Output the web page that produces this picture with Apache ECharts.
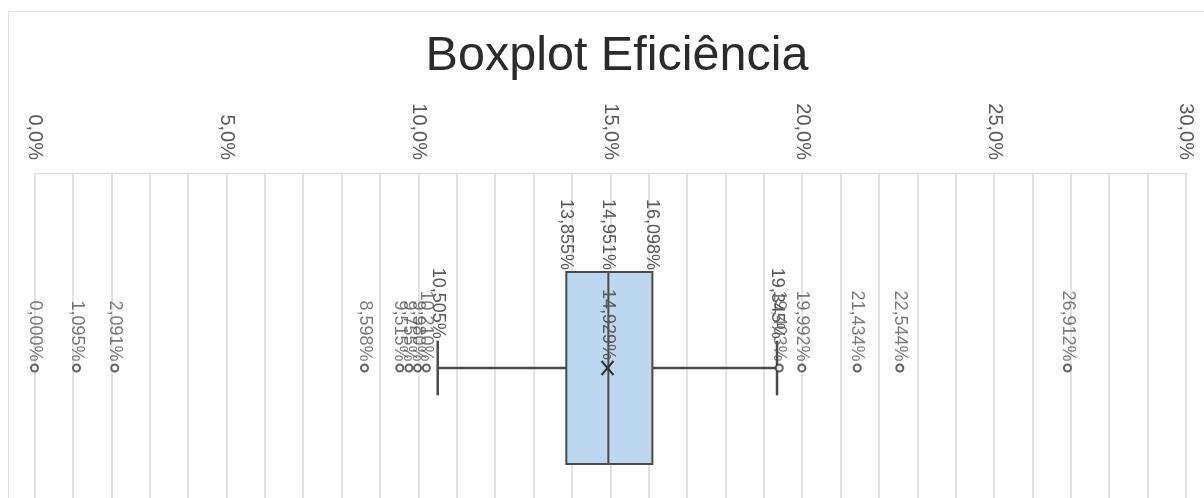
<!DOCTYPE html>
<html>
<head>
<meta charset="utf-8">
<style>
  html, body { margin: 0; padding: 0; background: #ffffff; }
  #chart { width: 1204px; height: 498px; }
</style>
<script src="https://cdn.jsdelivr.net/npm/echarts@6/dist/echarts.min.js"></script>
</head>
<body>
<div id="chart"></div>
<script>
// Single efficiency sample, values in percent
const categories = ['Eficiência'];
// whisker low, Q1, median, Q3, whisker high
const boxStats = [10.505, 13.855, 14.951, 16.098, 19.345];
const meanValue = 14.929;
const outliers = [0.000, 1.095, 2.091, 8.598, 9.515, 9.755, 9.980, 10.210,
                  19.403, 19.992, 21.434, 22.544, 26.912];
const axisMin = 0;
const axisMax = 30;
const minorStep = 1;
const labelStep = 5;

const LABEL_FONT = '"Liberation Sans", Arial, sans-serif';
const LABEL_COLOR = '#595959';
const LINE_COLOR = '#4a4a4a';

const pct3 = v => v.toFixed(3).replace('.', ',') + '%';
const pct1 = v => v.toFixed(1).replace('.', ',') + '%';

// rotated value label that ends at (x, y) and reads top-to-bottom
function vLabel(text, x, y) {
  return {
    type: 'text',
    x: x, y: y,
    rotation: -Math.PI / 2,
    style: {
      text: text, x: 0, y: 0,
      align: 'right', verticalAlign: 'middle',
      font: '18px ' + LABEL_FONT,
      fill: LABEL_COLOR
    },
    z2: 10
  };
}

function renderBox(params, api) {
  const cat = api.value(0);
  const lo = api.coord([api.value(1), cat]);
  const q1 = api.coord([api.value(2), cat]);
  const med = api.coord([api.value(3), cat]);
  const q3 = api.coord([api.value(4), cat]);
  const hi = api.coord([api.value(5), cat]);
  const mean = api.coord([api.value(6), cat]);
  const band = api.size([0, 1])[1];
  const cy = q1[1];
  const halfBox = band * 0.246;
  const halfCap = band * 0.07;
  const top = cy - halfBox;
  const lineStyle = { stroke: LINE_COLOR, lineWidth: 2.5 };
  const children = [
    // whiskers
    { type: 'line', shape: { x1: lo[0], y1: cy, x2: q1[0], y2: cy }, style: lineStyle },
    { type: 'line', shape: { x1: q3[0], y1: cy, x2: hi[0], y2: cy }, style: lineStyle },
    { type: 'line', shape: { x1: lo[0], y1: cy - halfCap, x2: lo[0], y2: cy + halfCap }, style: lineStyle },
    { type: 'line', shape: { x1: hi[0], y1: cy - halfCap, x2: hi[0], y2: cy + halfCap }, style: lineStyle },
    // box
    { type: 'rect', shape: { x: q1[0], y: top, width: q3[0] - q1[0], height: halfBox * 2 },
      style: { fill: '#bdd7ee', stroke: LINE_COLOR, lineWidth: 2 } },
    // median
    { type: 'line', shape: { x1: med[0], y1: top, x2: med[0], y2: cy + halfBox },
      style: { stroke: LINE_COLOR, lineWidth: 2 } },
    // mean marker
    { type: 'polyline', shape: { points: [[mean[0] - 6, cy - 7], [mean[0] + 6, cy + 7]] },
      style: { stroke: '#333333', lineWidth: 2 }, z2: 5 },
    { type: 'polyline', shape: { points: [[mean[0] + 6, cy - 7], [mean[0] - 6, cy + 7]] },
      style: { stroke: '#333333', lineWidth: 2 }, z2: 5 },
    // value labels
    vLabel(pct3(api.value(2)), q1[0], top - 2),
    vLabel(pct3(api.value(3)), med[0], top - 2),
    vLabel(pct3(api.value(4)), q3[0], top - 2),
    vLabel(pct3(api.value(6)), mean[0], cy - 8),
    vLabel(pct3(api.value(1)), lo[0], cy - halfCap - 2),
    vLabel(pct3(api.value(5)), hi[0], cy - halfCap - 2)
  ];
  return { type: 'group', children: children };
}

const chart = echarts.init(document.getElementById('chart'), null, { renderer: 'canvas' });

chart.setOption({
  backgroundColor: '#ffffff',
  animation: false,
  title: {
    text: 'Boxplot Eficiência',
    left: 612,
    textAlign: 'center',
    top: 27,
    textStyle: {
      fontFamily: LABEL_FONT,
      fontSize: 48.5,
      fontWeight: 'normal',
      color: '#2b2b2b'
    }
  },
  graphic: [{
    type: 'rect',
    shape: { x: 8.5, y: 11.5, width: 1300, height: 600 },
    style: { fill: 'none', stroke: '#e2e2e2', lineWidth: 1 },
    silent: true
  }],
  // the plot area runs past the bottom edge of the canvas
  grid: { left: 34.5, right: 18, top: 173, bottom: -65, containLabel: false, outerBoundsMode: 'none' },
  xAxis: {
    type: 'value',
    position: 'top',
    min: axisMin,
    max: axisMax,
    interval: minorStep,
    axisLine: { show: true, lineStyle: { color: '#d9d9d9', width: 1 } },
    axisTick: { show: false },
    splitLine: { show: true, lineStyle: { color: '#d9d9d9', width: 1.5 } },
    axisLabel: {
      rotate: 90,
      margin: 13,
      fontFamily: LABEL_FONT,
      fontSize: 20,
      color: LABEL_COLOR,
      formatter: v => (Math.round(v) % labelStep === 0 ? pct1(v) : '')
    }
  },
  yAxis: {
    type: 'category',
    data: categories,
    show: false
  },
  series: [
    {
      type: 'custom',
      renderItem: renderBox,
      encode: { x: [1, 2, 3, 4, 5, 6], y: 0 },
      data: [[0].concat(boxStats, [meanValue])],
      z: 3
    },
    {
      type: 'scatter',
      symbol: 'emptyCircle',
      symbolSize: 7,
      itemStyle: { color: '#3a3a3a', borderWidth: 2 },
      data: outliers.map(v => [v, categories[0]]),
      label: {
        show: true,
        position: 'top',
        distance: 2,
        rotate: -90,
        align: 'right',
        verticalAlign: 'middle',
        fontFamily: LABEL_FONT,
        fontSize: 18,
        color: LABEL_COLOR,
        formatter: p => pct3(p.value[0])
      },
      labelLayout: { hideOverlap: false },
      z: 4
    }
  ]
});
</script>
</body>
</html>
